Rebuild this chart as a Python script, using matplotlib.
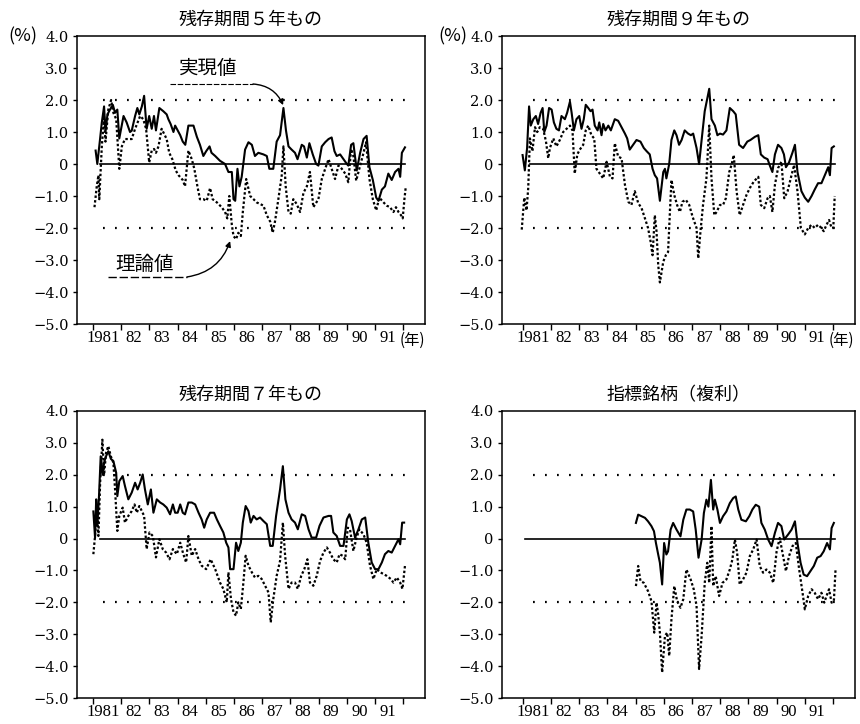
"""Yield spread charts: realised vs theoretical value, four bond maturities."""
import numpy as np
import matplotlib.pyplot as plt
from matplotlib.transforms import blended_transform_factory

# ---- data: year offsets from 1981, spread in % ----
# 残存期間5年もの
tl_real_t = 1981 + np.array([
    0.09, 0.15, 0.25, 0.31, 0.39, 0.44, 0.51, 0.60, 0.70, 0.78, 0.86, 0.93,
    1.08, 1.19, 1.31, 1.37, 1.49, 1.57, 1.64, 1.73, 1.81, 1.90, 1.99, 2.08,
    2.16, 2.23, 2.35, 2.49, 2.61, 2.67, 2.75, 2.85, 2.91, 3.09, 3.18, 3.27,
    3.38, 3.56, 3.68, 3.79, 3.91, 4.01, 4.13, 4.20, 4.33, 4.50, 4.68, 4.80,
    4.92, 4.98, 5.04, 5.12, 5.19, 5.27, 5.39, 5.51, 5.63, 5.74, 5.86, 6.04,
    6.16, 6.25, 6.39, 6.51, 6.63, 6.75, 6.84, 6.93, 7.04, 7.16, 7.25, 7.40,
    7.48, 7.58, 7.67, 7.79, 7.91, 7.99, 8.11, 8.23, 8.35, 8.46, 8.56, 8.64,
    8.76, 8.88, 9.00, 9.05, 9.15, 9.23, 9.35, 9.47, 9.59, 9.70, 9.80, 9.92,
    10.04, 10.12, 10.24, 10.35, 10.47, 10.59, 10.71, 10.83, 10.89, 10.95, 11.06])
tl_real_v = [
    0.42, 0.0, 0.8, 1.3, 1.8, 1.0, 1.55, 1.7, 1.85, 1.6, 1.7, 0.8,
    1.5, 1.3, 1.0, 1.04, 1.5, 1.75, 1.55, 1.8, 2.13, 1.1, 1.5, 1.1,
    1.5, 1.05, 1.75, 1.65, 1.55, 1.4, 1.25, 1.0, 1.2, 0.9, 0.7, 0.6,
    1.2, 1.2, 0.85, 0.6, 0.25, 0.4, 0.55, 0.35, 0.25, 0.1, 0.0, -0.25,
    -0.25, -1.1, -1.15, -0.15, -0.7, -0.4, 0.45, 0.68, 0.6, 0.25, 0.35, 0.3,
    0.25, -0.15, -0.15, 0.7, 0.9, 1.75, 1.05, 0.55, 0.45, 0.35, 0.15, 0.6,
    0.55, 0.2, 0.65, 0.3, 0.0, -0.05, 0.55, 0.68, 0.78, 0.83, 0.4, 0.25,
    0.3, 0.15, 0.0, -0.05, 0.6, 0.65, -0.2, 0.35, 0.78, 0.88, -0.1, -0.5,
    -1.05, -1.15, -0.8, -0.7, -0.3, -0.5, -0.25, -0.15, -0.4, 0.35, 0.52]
tl_theo_t = 1981 + np.array([
    0.05, 0.13, 0.19, 0.22, 0.31, 0.39, 0.44, 0.54, 0.64, 0.72, 0.82, 0.93,
    1.02, 1.13, 1.25, 1.37, 1.49, 1.58, 1.67, 1.78, 1.88, 1.99, 2.08, 2.16,
    2.23, 2.32, 2.43, 2.52, 2.61, 2.70, 2.81, 2.93, 3.03, 3.18, 3.26, 3.38,
    3.50, 3.59, 3.70, 3.79, 3.91, 4.03, 4.15, 4.24, 4.39, 4.56, 4.68, 4.76,
    4.83, 4.92, 4.98, 5.07, 5.15, 5.24, 5.31, 5.43, 5.57, 5.69, 5.80, 6.04,
    6.16, 6.28, 6.37, 6.45, 6.57, 6.69, 6.75, 6.83, 6.93, 7.01, 7.10, 7.22,
    7.34, 7.46, 7.58, 7.69, 7.81, 7.99, 8.11, 8.23, 8.35, 8.46, 8.58, 8.70,
    8.82, 8.94, 9.05, 9.15, 9.23, 9.33, 9.44, 9.59, 9.68, 9.80, 9.92, 10.04,
    10.15, 10.30, 10.41, 10.53, 10.65, 10.74, 10.83, 10.92, 10.98, 11.04, 11.09])
tl_theo_v = [
    -1.35, -0.7, -0.35, -1.1, 0.55, 1.5, 0.7, 1.7, 2.0, 1.6, 1.4, -0.15,
    0.55, 0.78, 0.78, 0.78, 1.1, 1.3, 1.5, 1.4, 1.1, 0.05, 0.42, 0.47,
    0.35, 0.55, 1.1, 0.94, 0.78, 0.35, 0.15, -0.2, -0.35, -0.5, -0.7, 0.42,
    0.15, -0.15, -0.7, -1.1, -1.1, -1.15, -0.75, -1.1, -1.2, -1.35, -1.5, -1.7,
    -1.0, -1.9, -2.25, -2.35, -2.15, -2.25, -1.5, -0.47, -1.0, -1.1, -1.2, -1.3,
    -1.6, -1.8, -2.15, -1.8, -1.1, -0.35, 0.55, -0.7, -1.5, -1.55, -1.1, -1.25,
    -1.5, -0.9, -0.7, -0.25, -1.35, -1.1, -0.47, -0.15, 0.15, -0.15, -0.47, -0.05,
    -0.15, -0.3, -0.57, 0.47, 0.25, -0.52, -0.15, 0.35, 0.68, -0.47, -1.1, -1.45,
    -1.05, -1.2, -1.3, -1.35, -1.5, -1.35, -1.5, -1.6, -1.7, -1.1, -0.7]

# 残存期間9年もの
tr_real_t = 1981 + np.array([
    -0.01, 0.07, 0.15, 0.22, 0.28, 0.37, 0.46, 0.54, 0.63, 0.70, 0.76, 0.84,
    0.93, 1.02, 1.10, 1.19, 1.28, 1.37, 1.49, 1.57, 1.67, 1.73, 1.81, 1.90,
    2.00, 2.08, 2.16, 2.23, 2.32, 2.40, 2.47, 2.55, 2.65, 2.71, 2.79, 2.85,
    2.93, 3.03, 3.12, 3.26, 3.38, 3.50, 3.62, 3.70, 3.79, 3.91, 4.03, 4.17,
    4.29, 4.39, 4.50, 4.60, 4.68, 4.76, 4.86, 4.98, 5.04, 5.09, 5.19, 5.27,
    5.37, 5.45, 5.54, 5.63, 5.74, 5.86, 5.96, 6.04, 6.16, 6.25, 6.34, 6.45,
    6.61, 6.69, 6.81, 6.90, 6.99, 7.10, 7.22, 7.34, 7.46, 7.55, 7.67, 7.81,
    7.96, 8.07, 8.23, 8.35, 8.44, 8.56, 8.68, 8.76, 8.85, 8.94, 9.05, 9.17,
    9.26, 9.33, 9.44, 9.56, 9.65, 9.74, 9.88, 10.00, 10.12, 10.24, 10.35, 10.47,
    10.59, 10.71, 10.83, 10.89, 10.95, 11.03])
tr_real_v = [
    0.28, -0.2, 0.5, 1.8, 1.2, 1.4, 1.5, 1.25, 1.6, 1.75, 1.0, 1.2,
    1.75, 1.7, 1.3, 1.1, 1.05, 1.5, 1.4, 1.6, 1.95, 1.6, 1.05, 1.4,
    1.5, 1.1, 1.4, 1.85, 1.75, 1.65, 1.7, 1.2, 1.05, 1.3, 0.9, 1.25,
    1.05, 1.2, 1.05, 1.4, 1.35, 1.15, 0.95, 0.8, 0.45, 0.6, 0.75, 0.7,
    0.5, 0.4, 0.3, -0.15, -0.35, -0.45, -1.15, -0.25, -0.15, -0.45, 0.0, 0.75,
    1.05, 0.9, 0.6, 0.75, 1.05, 0.95, 0.9, 0.95, 0.5, 0.0, 0.75, 1.65,
    2.35, 1.4, 1.2, 0.9, 0.95, 0.92, 1.05, 1.75, 1.65, 1.55, 0.6, 0.5,
    0.7, 0.75, 0.85, 0.9, 0.3, 0.2, 0.15, -0.05, -0.25, 0.3, 0.6, 0.5,
    0.3, -0.1, 0.05, 0.35, 0.6, -0.25, -0.85, -1.05, -1.18, -1.0, -0.8, -0.6,
    -0.6, -0.35, -0.1, -0.35, 0.5, 0.55]
tr_theo_t = 1981 + np.array([
    -0.04, 0.05, 0.13, 0.19, 0.25, 0.34, 0.43, 0.51, 0.60, 0.72, 0.82, 0.90,
    0.96, 1.08, 1.19, 1.31, 1.43, 1.55, 1.67, 1.76, 1.84, 1.93, 2.02, 2.14,
    2.23, 2.32, 2.43, 2.53, 2.61, 2.73, 2.85, 2.97, 3.09, 3.18, 3.26, 3.38,
    3.50, 3.62, 3.74, 3.85, 3.97, 4.09, 4.21, 4.33, 4.44, 4.53, 4.60, 4.68,
    4.74, 4.80, 4.86, 4.98, 5.07, 5.15, 5.21, 5.27, 5.37, 5.47, 5.57, 5.66,
    5.78, 5.90, 6.02, 6.16, 6.22, 6.30, 6.39, 6.51, 6.61, 6.69, 6.79, 6.87,
    6.99, 7.10, 7.20, 7.32, 7.40, 7.48, 7.58, 7.69, 7.81, 7.93, 8.05, 8.19,
    8.35, 8.44, 8.56, 8.68, 8.76, 8.85, 8.94, 9.05, 9.17, 9.27, 9.39, 9.50,
    9.62, 9.74, 9.86, 10.00, 10.12, 10.24, 10.35, 10.47, 10.59, 10.67, 10.77, 10.86,
    10.95, 11.01, 11.06])
tr_theo_v = [
    -2.05, -1.05, -1.45, -0.75, 0.8, 0.4, 1.15, 1.0, 1.15, 1.1, 0.7, 0.18,
    0.5, 0.8, 0.55, 0.75, 1.0, 1.1, 1.2, 1.05, -0.3, 0.3, 0.45, 0.6,
    1.05, 1.2, 0.9, 0.8, -0.15, -0.3, -0.45, 0.07, -0.4, -0.45, 0.65, 0.23,
    0.18, -0.65, -1.18, -1.28, -0.85, -1.22, -1.38, -1.7, -2.0, -2.42, -2.85, -1.6,
    -2.1, -3.15, -3.7, -3.05, -2.85, -2.75, -1.6, -0.5, -0.97, -1.28, -1.5, -1.18,
    -1.12, -1.28, -1.65, -2.0, -2.95, -2.1, -1.28, -0.45, 1.2, -0.45, -1.6, -1.5,
    -1.28, -1.28, -1.07, -0.25, -0.03, 0.28, -0.85, -1.6, -1.28, -0.97, -0.75, -0.55,
    -0.4, -1.28, -1.38, -1.07, -1.0, -1.5, -0.65, -0.13, 0.07, -1.07, -0.85, -0.45,
    -0.03, -0.85, -2.0, -2.2, -2.0, -1.9, -2.0, -1.9, -2.0, -2.1, -1.9, -1.75,
    -2.0, -2.0, -1.0]

# 残存期間7年もの
bl_real_t = 1981 + np.array([
    0.01, 0.07, 0.11, 0.15, 0.21, 0.27, 0.33, 0.39, 0.46, 0.54, 0.63, 0.72,
    0.82, 0.86, 0.93, 1.05, 1.13, 1.25, 1.37, 1.49, 1.58, 1.67, 1.76, 1.84,
    1.94, 2.05, 2.14, 2.26, 2.38, 2.49, 2.61, 2.73, 2.83, 2.91, 3.00, 3.09,
    3.18, 3.26, 3.38, 3.50, 3.62, 3.74, 3.85, 3.94, 4.03, 4.15, 4.29, 4.39,
    4.50, 4.62, 4.72, 4.80, 4.86, 4.98, 5.07, 5.15, 5.24, 5.31, 5.41, 5.51,
    5.59, 5.69, 5.80, 5.92, 6.04, 6.16, 6.28, 6.37, 6.49, 6.63, 6.73, 6.82,
    6.93, 7.04, 7.16, 7.26, 7.40, 7.52, 7.64, 7.75, 7.91, 8.03, 8.17, 8.35,
    8.44, 8.52, 8.64, 8.76, 8.88, 9.00, 9.09, 9.17, 9.29, 9.41, 9.53, 9.65,
    9.76, 9.88, 10.00, 10.12, 10.24, 10.35, 10.47, 10.59, 10.71, 10.83, 10.89, 10.96,
    11.03])
bl_real_v = [
    0.85, 0.03, 1.23, 0.4, 1.33, 2.58, 2.0, 2.38, 2.58, 2.74, 2.5, 2.43,
    2.06, 1.33, 1.8, 1.96, 1.65, 1.23, 1.44, 1.75, 1.54, 1.75, 2.01, 1.54,
    1.07, 1.54, 0.81, 1.23, 1.13, 1.07, 0.97, 0.76, 1.07, 0.81, 0.81, 1.07,
    0.81, 0.76, 1.13, 1.13, 1.07, 0.81, 0.6, 0.34, 0.6, 0.81, 0.81, 0.6,
    0.4, 0.19, -0.13, -0.28, -0.96, -0.96, -0.13, -0.39, -0.13, 0.5, 1.02, 0.86,
    0.5, 0.71, 0.6, 0.66, 0.55, 0.45, -0.23, -0.23, 0.71, 1.54, 2.27, 1.23,
    0.81, 0.6, 0.5, 0.29, 0.76, 0.71, 0.29, 0.03, 0.03, 0.4, 0.66, 0.71,
    0.71, 0.19, 0.08, -0.23, -0.23, 0.6, 0.76, 0.55, 0.03, 0.29, 0.6, 0.66,
    -0.13, -0.75, -0.96, -0.96, -0.75, -0.49, -0.39, -0.44, -0.23, -0.02, -0.18, 0.5,
    0.5]
bl_theo_t = 1981 + np.array([
    0.01, 0.07, 0.13, 0.19, 0.25, 0.33, 0.39, 0.46, 0.54, 0.63, 0.72, 0.78,
    0.86, 0.93, 1.05, 1.13, 1.25, 1.37, 1.47, 1.55, 1.64, 1.73, 1.81, 1.90,
    2.00, 2.12, 2.23, 2.35, 2.47, 2.59, 2.71, 2.83, 2.97, 3.09, 3.20, 3.30,
    3.38, 3.50, 3.62, 3.74, 3.85, 4.01, 4.17, 4.33, 4.50, 4.62, 4.74, 4.80,
    4.89, 4.98, 5.07, 5.15, 5.24, 5.33, 5.41, 5.51, 5.63, 5.74, 5.86, 5.98,
    6.10, 6.22, 6.30, 6.39, 6.51, 6.63, 6.73, 6.81, 6.93, 7.04, 7.16, 7.26,
    7.38, 7.49, 7.60, 7.69, 7.81, 7.93, 8.05, 8.17, 8.29, 8.40, 8.52, 8.64,
    8.74, 8.85, 8.94, 9.03, 9.11, 9.23, 9.33, 9.44, 9.59, 9.70, 9.82, 9.94,
    10.06, 10.18, 10.30, 10.41, 10.56, 10.65, 10.77, 10.89, 10.97, 11.06])
bl_theo_v = [
    -0.49, 0.08, 0.92, 0.08, 1.75, 3.1, 2.0, 2.69, 2.9, 2.58, 2.38, 1.54,
    0.24, 0.71, 0.97, 0.5, 0.71, 0.86, 1.07, 0.81, 1.02, 0.86, 0.71, -0.33,
    0.19, 0.08, -0.59, -0.02, -0.33, -0.44, -0.65, -0.33, -0.49, -0.13, -0.49, -0.75,
    0.08, -0.54, -0.33, -0.65, -0.85, -0.96, -0.65, -0.96, -1.38, -1.58, -2.0, -1.06,
    -1.9, -2.31, -2.42, -2.0, -2.21, -1.38, -0.54, -0.85, -1.06, -1.22, -1.17, -1.27,
    -1.48, -1.69, -2.63, -1.9, -1.17, -0.7, 0.5, -0.54, -1.58, -1.38, -1.38, -1.58,
    -1.17, -0.96, -0.65, -1.38, -1.48, -1.17, -0.7, -0.44, -0.28, -0.44, -0.65, -0.75,
    -0.49, -0.54, -0.65, 0.34, 0.29, -0.39, -0.02, 0.29, 0.13, -0.13, -0.85, -1.27,
    -0.96, -1.06, -1.11, -1.17, -1.27, -1.38, -1.22, -1.38, -1.58, -0.85]

# 指標銘柄（複利） - series begin in 1985
br_real_t = 1981 + np.array([
    4.01, 4.09, 4.21, 4.33, 4.44, 4.56, 4.65, 4.72, 4.80, 4.86, 4.94, 5.01,
    5.09, 5.15, 5.24, 5.33, 5.45, 5.59, 5.69, 5.80, 5.92, 6.04, 6.13, 6.23,
    6.34, 6.42, 6.51, 6.58, 6.67, 6.75, 6.81, 6.90, 6.99, 7.10, 7.22, 7.34,
    7.46, 7.55, 7.64, 7.75, 7.91, 8.03, 8.14, 8.26, 8.38, 8.46, 8.58, 8.70,
    8.82, 8.94, 9.05, 9.17, 9.27, 9.41, 9.53, 9.65, 9.74, 9.85, 9.96, 10.08,
    10.20, 10.32, 10.44, 10.56, 10.67, 10.79, 10.89, 10.95, 11.03])
br_real_v = [
    0.49, 0.75, 0.7, 0.65, 0.54, 0.39, 0.23, -0.14, -0.5, -0.76, -1.44, -0.14,
    -0.5, -0.4, 0.28, 0.49, 0.28, 0.07, 0.59, 0.91, 0.91, 0.85, 0.28, -0.6,
    -0.03, 0.8, 1.22, 1.0, 1.84, 0.91, 1.22, 0.91, 0.49, 0.7, 0.85, 1.11,
    1.27, 1.32, 0.91, 0.59, 0.54, 0.7, 0.91, 1.06, 1.0, 0.49, 0.28, -0.03,
    -0.24, 0.18, 0.49, 0.39, -0.03, 0.13, 0.28, 0.54, -0.14, -0.76, -1.13, -1.18,
    -1.02, -0.86, -0.6, -0.55, -0.4, -0.14, -0.34, 0.33, 0.49]
br_theo_t = 1981 + np.array([
    4.01, 4.09, 4.17, 4.29, 4.44, 4.56, 4.66, 4.74, 4.80, 4.86, 4.94, 5.04,
    5.12, 5.19, 5.27, 5.37, 5.47, 5.59, 5.69, 5.80, 5.95, 6.06, 6.16, 6.25,
    6.34, 6.45, 6.54, 6.61, 6.69, 6.75, 6.84, 6.96, 7.08, 7.22, 7.34, 7.43,
    7.52, 7.60, 7.69, 7.81, 7.93, 8.05, 8.17, 8.29, 8.40, 8.52, 8.64, 8.76,
    8.88, 9.00, 9.11, 9.23, 9.33, 9.44, 9.56, 9.68, 9.80, 9.92, 10.00, 10.12,
    10.24, 10.35, 10.47, 10.59, 10.69, 10.77, 10.86, 10.95, 11.03, 11.09])
br_theo_v = [
    -1.49, -0.86, -1.33, -1.39, -1.65, -1.96, -2.95, -2.01, -2.38, -2.95, -4.2, -3.05,
    -2.95, -3.68, -2.53, -1.49, -1.96, -2.17, -1.9, -0.97, -1.28, -1.59, -2.11, -4.09,
    -3.05, -1.39, -0.76, -1.39, 0.39, -1.49, -1.18, -1.8, -1.39, -1.28, -0.97, -0.66,
    -0.03, -0.45, -1.44, -1.28, -1.07, -0.55, -0.34, -0.03, -0.86, -1.07, -0.97, -1.07,
    -1.39, -0.4, 0.02, -0.55, -1.02, -0.55, -0.24, -0.14, -0.97, -1.7, -2.22, -1.8,
    -1.59, -1.7, -1.9, -1.7, -2.01, -1.8, -1.59, -2.01, -1.96, -0.97]

titles = ["残存期間５年もの", "残存期間９年もの", "残存期間７年もの", "指標銘柄（複利）"]
years = np.arange(1981, 1993)
year_labels = ["1981", "82", "83", "84", "85", "86", "87", "88", "89", "90", "91"]
y_ticks = np.arange(-5, 5)
y_labels = ["−5.0", "−4.0", "−3.0", "−2.0", "−1.0", "0", "1.0", "2.0", "3.0", "4.0"]

JP = ["Noto Sans CJK JP", "DejaVu Sans"]
plt.rcParams["font.family"] = ["DejaVu Serif", "Noto Sans CJK JP"]

fig = plt.figure(figsize=(8.6, 7.24), dpi=100)

W = 860.0
H = 724.0
# axes rectangles in pixels: left, bottom(from top), width, height
rects = {
    "tl": (77, 324, 348, 288),
    "tr": (502, 324, 353, 288),
    "bl": (77, 698, 348, 287),
    "br": (502, 698, 353, 287),
}
xlims = {"tl": (1980.43, 1992.77), "tr": (1980.26, 1992.78),
         "bl": (1980.43, 1992.77), "br": (1980.26, 1992.78)}


def draw(key, real_t, real_v, theo_t, theo_v, title, zero_from, top_row):
    l, b, w, h = rects[key]
    ax = fig.add_axes([l / W, 1 - b / H, w / W, h / H])
    ax.set_xlim(*xlims[key])
    ax.set_ylim(-5, 4)

    # reference lines
    ax.plot([zero_from, 1992.06], [0, 0], color="black", lw=1.2)
    for lev in (2, -2):
        ax.plot([1981.36, 1992.06], [lev, lev], color="black", lw=1.6,
                ls=(0, (0.8, 4.6)))

    ax.plot(real_t, real_v, color="black", lw=1.5)
    ax.plot(theo_t, theo_v, color="black", lw=1.6, ls=(0, (1.1, 1.0)))

    for s in ax.spines.values():
        s.set_linewidth(1.1)

    ax.set_yticks(y_ticks)
    ax.set_yticklabels(y_labels)
    ax.tick_params(axis="y", direction="out", length=3, width=1,
                   labelsize=10.5, pad=3)

    ax.set_xticks(years)
    ax.set_xticklabels([""] * len(years))
    ax.tick_params(axis="x", which="major", direction="out", length=4, width=1)
    lab_pos = [1981.36] + [y + 0.44 for y in years[1:-1]]
    ax.set_xticks(lab_pos, minor=True)
    ax.set_xticklabels(year_labels, minor=True, fontfamily="Liberation Serif",
                       fontsize=12)
    ax.tick_params(axis="x", which="minor", length=0, pad=4)

    ax.set_title(title, fontfamily=JP, fontsize=13, pad=8)

    if top_row:
        tr = blended_transform_factory(ax.transData, ax.transAxes)
        ax.text(1991.86, -0.028, "(年)", transform=tr, ha="left", va="top",
                fontfamily=JP, fontsize=11)
    return ax


ax_tl = draw("tl", tl_real_t, tl_real_v, tl_theo_t, tl_theo_v, titles[0], 1981.25, True)
ax_tr = draw("tr", tr_real_t, tr_real_v, tr_theo_t, tr_theo_v, titles[1], 1981.25, True)
ax_bl = draw("bl", bl_real_t, bl_real_v, bl_theo_t, bl_theo_v, titles[2], 1981.25, False)
ax_br = draw("br", br_real_t, br_real_v, br_theo_t, br_theo_v, titles[3], 1981.07, False)

# call-outs naming the two series (only on the first panel)
ax_tl.text(1985.08, 2.97, "実現値", fontfamily=JP, fontsize=14,
           ha="center", va="center")
ax_tl.plot([1983.73, 1986.67], [2.5, 2.5], color="black", lw=0.8, ls=(0, (5, 1.5)))
ax_tl.annotate("", xy=(1987.74, 1.84), xytext=(1986.67, 2.5),
               arrowprops=dict(arrowstyle="-|>", lw=1.0, color="black",
                               connectionstyle="arc3,rad=-0.3",
                               shrinkA=0, shrinkB=0, mutation_scale=8))
ax_tl.text(1982.84, -3.13, "理論値", fontfamily=JP, fontsize=14,
           ha="center", va="center")
ax_tl.plot([1981.53, 1984.33], [-3.53, -3.53], color="black", lw=1.0, ls=(0, (6, 2)))
ax_tl.annotate("", xy=(1985.86, -2.41), xytext=(1984.33, -3.53),
               arrowprops=dict(arrowstyle="-|>", lw=1.0, color="black",
                               connectionstyle="arc3,rad=0.3",
                               shrinkA=0, shrinkB=0, mutation_scale=8))

# unit labels
fig.text(8 / W, 1 - 36 / H, "(%)", fontfamily=JP, fontsize=13, va="center", ha="left")
fig.text(438 / W, 1 - 36 / H, "(%)", fontfamily=JP, fontsize=13, va="center", ha="left")

fig.savefig("out.png", dpi=100)
